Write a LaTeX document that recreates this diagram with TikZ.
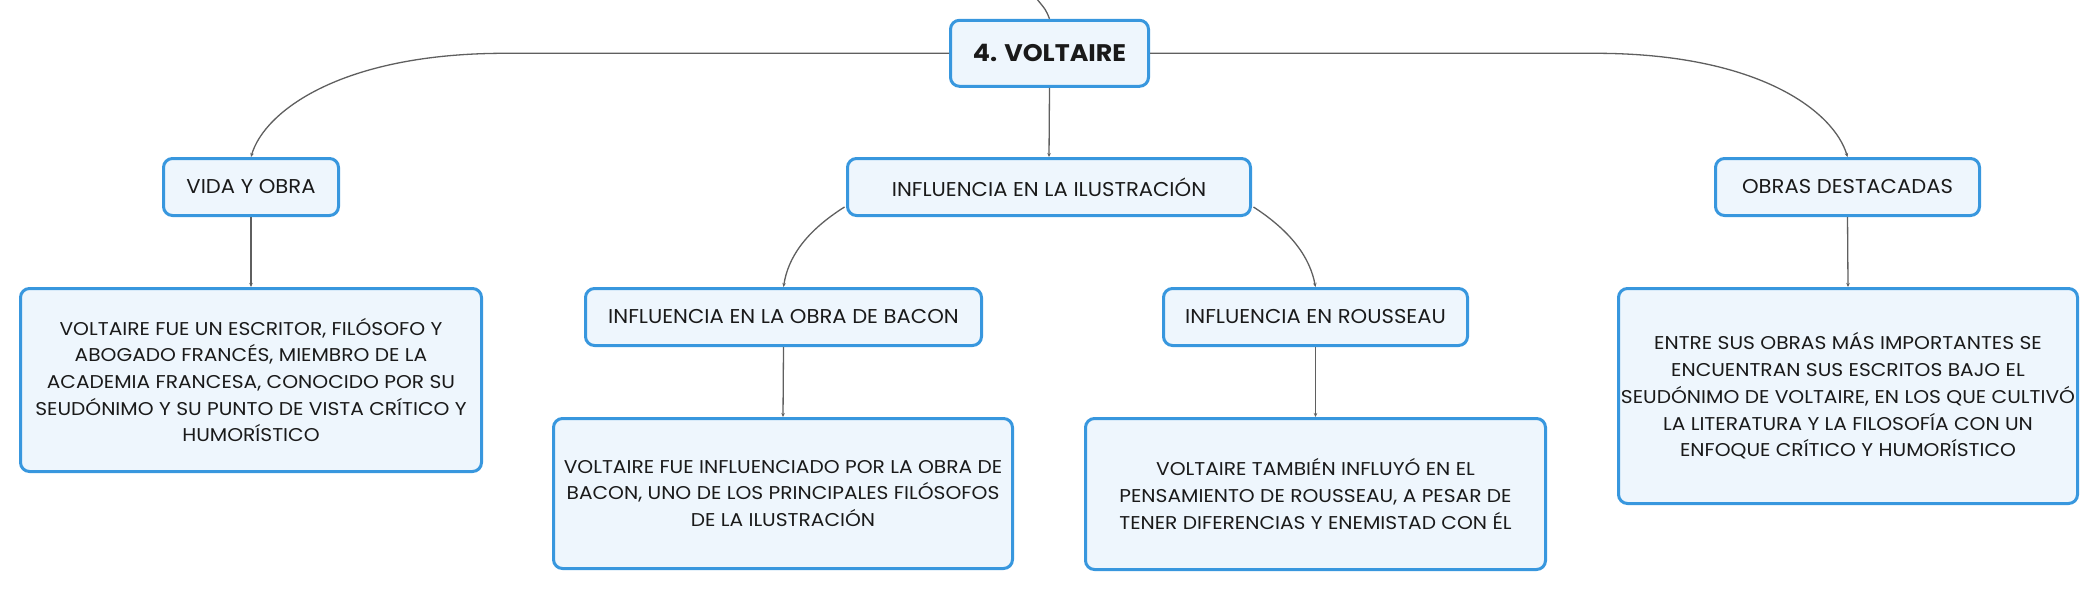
\documentclass[tikz,border=0pt]{standalone}
\usepackage{tikz}
\usepackage{fontspec}
\setmainfont{Poppins}
\usetikzlibrary{arrows.meta}
% --- calibrate horizontal stretch to the reference's text widths ---
\newfontfamily\probefont{Poppins}
\newlength\wa \newlength\wb \newlength\wc
\settowidth\wa{\probefont\fontsize{18.5}{20}\selectfont VOLTAIRE FUE UN ESCRITOR, FILÓSOFO Y}
\settowidth\wb{\probefont\fontsize{18.5}{20}\selectfont PENSAMIENTO DE ROUSSEAU, A PESAR DE}
\settowidth\wc{\probefont\fontsize{18.5}{20}\selectfont SEUDÓNIMO DE VOLTAIRE, EN LOS QUE CULTIVÓ}
\pgfmathsetmacro\bodystretch{(381.7+395.7+451.7)/(\wa+\wb+\wc)}
\settowidth\wa{\probefont\fontsize{20}{22}\selectfont INFLUENCIA EN ROUSSEAU}
\settowidth\wb{\probefont\fontsize{20}{22}\selectfont VIDA Y OBRA}
\settowidth\wc{\probefont\fontsize{20}{22}\selectfont OBRAS DESTACADAS}
\pgfmathsetmacro\lblstretch{(252.3+133.3+215)/(\wa+\wb+\wc)}
\settowidth\wa{\probefont\bfseries\fontsize{24}{26}\selectfont 4. VOLTAIRE}
\pgfmathsetmacro\boldstretch{153.3/\wa}
\edef\mkfonts{%
  \noexpand\newfontfamily\noexpand\bodyfont{Poppins}[FakeStretch=\bodystretch]%
  \noexpand\newfontfamily\noexpand\lblfont{Poppins}[FakeStretch=\lblstretch]%
  \noexpand\newfontfamily\noexpand\titlefont{Poppins}[FakeStretch=\boldstretch]%
}
\mkfonts
\definecolor{bblue}{HTML}{3897DE}
\definecolor{bfill}{HTML}{EEF6FD}
\definecolor{lgray}{HTML}{5F5F5F}
\definecolor{tdark}{HTML}{1A1A1A}
\tikzset{
  box/.style={draw=bblue, line width=3pt, fill=bfill, rounded corners=9pt, align=center, inner sep=0pt, text=tdark},
  lbl/.style={box, font=\lblfont\fontsize{20}{24}\selectfont, minimum height=57pt},
  txt/.style={box, font=\bodyfont\fontsize{18.5}{26.7}\selectfont},
  conn/.style={draw=lgray, line width=1.3pt, -{Stealth[length=4pt,width=3.5pt]}},
  plain/.style={draw=lgray, line width=1.3pt}
}
\begin{document}
\begin{tikzpicture}[x=1pt,y=-1pt]
\useasboundingbox (0,0) rectangle (2100,591);
% main
\node[box, font=\titlefont\bfseries\fontsize{24}{28}\selectfont, minimum width=198pt, minimum height=66pt] (volt) at (1049.5,53.3) {4. VOLTAIRE};
% level 1
\node[lbl, minimum width=175pt] (vida) at (251,187) {VIDA Y OBRA};
\node[lbl, minimum width=403pt] (ilus) at (1049,187) {INFLUENCIA EN LA ILUSTRACIÓN};
\node[lbl, minimum width=264pt] (obras) at (1847.5,187) {OBRAS DESTACADAS};
% level 2
\node[lbl, minimum width=396pt] (bacon) at (783.5,317) {INFLUENCIA EN LA OBRA DE BACON};
\node[lbl, minimum width=304pt] (rous) at (1315.5,317) {INFLUENCIA EN ROUSSEAU};
% texts
\node[txt, minimum width=461pt, minimum height=183pt] (vidat) at (251,380) {VOLTAIRE FUE UN ESCRITOR, FILÓSOFO Y\\ABOGADO FRANCÉS, MIEMBRO DE LA\\ACADEMIA FRANCESA, CONOCIDO POR SU\\SEUDÓNIMO Y SU PUNTO DE VISTA CRÍTICO Y\\HUMORÍSTICO};
\node[txt, minimum width=459pt, minimum height=150pt] (bacont) at (783,493.5) {VOLTAIRE FUE INFLUENCIADO POR LA OBRA DE\\BACON, UNO DE LOS PRINCIPALES FILÓSOFOS\\DE LA ILUSTRACIÓN};
\node[txt, minimum width=460pt, minimum height=151pt] (roust) at (1315.5,494) {VOLTAIRE TAMBIÉN INFLUYÓ EN EL\\PENSAMIENTO DE ROUSSEAU, A PESAR DE\\TENER DIFERENCIAS Y ENEMISTAD CON ÉL};
\node[txt, minimum width=459pt, minimum height=215pt] (obrast) at (1848,396) {ENTRE SUS OBRAS MÁS IMPORTANTES SE\\ENCUENTRAN SUS ESCRITOS BAJO EL\\SEUDÓNIMO DE VOLTAIRE, EN LOS QUE CULTIVÓ\\LA LITERATURA Y LA FILOSOFÍA CON UN\\ENFOQUE CRÍTICO Y HUMORÍSTICO};
% connectors
\coordinate (up) at (1036,-2);
\coordinate (lh) at (505,53.3);
\coordinate (rh) at (1595,53.3);
\path[plain] (volt.north) .. controls (1046,10) .. (up);
\path[conn] (volt.west) -- (lh) .. controls (340,53.3) and (264,112) .. (vida.north);
\path[conn] (volt.east) -- (rh) .. controls (1760,53.3) and (1834,112) .. (obras.north);
\path[conn] (volt.south) -- (ilus.north);
\path (ilus.south west) ++(-1.5,-10) coordinate (ilw);
\path (ilus.south east) ++(1.5,-10) coordinate (ile);
\path[conn] (ilw) .. controls (805,232) and (788,258) .. (bacon.north);
\path[conn] (ile) .. controls (1292,232) and (1310,258) .. (rous.north);
\path[conn] (vida.south) -- (vidat.north);
\path[conn] (bacon.south) -- (bacont.north);
\path[conn] (rous.south) -- (roust.north);
\path[conn] (obras.south) -- (obrast.north);
\end{tikzpicture}
\end{document}
